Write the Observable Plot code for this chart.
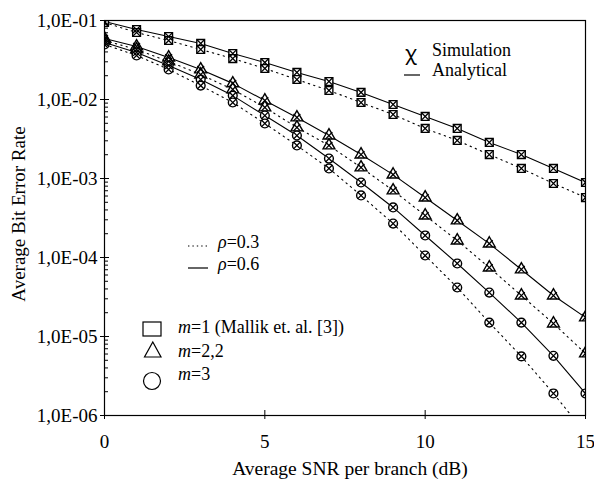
<!DOCTYPE html>
<html>
<head>
<meta charset="utf-8">
<script src="https://cdn.jsdelivr.net/npm/d3@7"></script>
<script src="https://cdn.jsdelivr.net/npm/@observablehq/plot@0.6"></script>
<style>
  html, body { margin: 0; padding: 0; background: white; }
  .serif { font-family: "Liberation Serif"; }
</style>
</head>
<body>
<script>
// ---- Data ----
const snr = [0, 1, 2, 3, 4, 5, 6, 7, 8, 9, 10, 11, 12, 13, 14, 15];

// m = 1 (squares)
const m1_rho06 = [0.0971, 0.0769, 0.0627, 0.0512, 0.0382, 0.0294, 0.0220, 0.0169, 0.0123, 0.00865, 0.00610, 0.00430, 0.00286, 0.00201, 0.00134, 0.00089];
const m1_rho03 = [0.0943, 0.0705, 0.0558, 0.0430, 0.0330, 0.0247, 0.0179, 0.0130, 0.00916, 0.00646, 0.00430, 0.00303, 0.00201, 0.00134, 0.000865, 0.000574];
// m = 2,2 (triangles)
const m22_rho06 = [0.0592, 0.0469, 0.0340, 0.0240, 0.0160, 0.0097, 0.00592, 0.00350, 0.00201, 0.00112, 0.000574, 0.000294, 0.000150, 7.05e-5, 3.30e-5, 1.74e-5];
const m22_rho03 = [0.0558, 0.0430, 0.0303, 0.0207, 0.0134, 0.00793, 0.00443, 0.00262, 0.00138, 0.000705, 0.000340, 0.000164, 7.46e-5, 3.30e-5, 1.46e-5, 6.1e-6];
// m = 3 (circles)
const m3_rho06 = [0.0527, 0.0394, 0.0269, 0.0179, 0.0112, 0.00627, 0.00350, 0.00179, 0.00089, 0.000430, 0.000190, 8.4e-5, 3.6e-5, 1.50e-5, 5.7e-6, 1.90e-6];
const m3_rho03 = [0.0497, 0.0361, 0.0240, 0.0150, 0.00916, 0.00497, 0.00262, 0.00134, 0.00061, 0.000269, 0.000106, 4.17e-5, 1.50e-5, 5.6e-6, 1.90e-6, 6.0e-7];

const yMajor = [1e-6, 1e-5, 1e-4, 1e-3, 1e-2, 1e-1];
const xMajor = [0, 5, 10, 15];

// ---- Table built from the arrays ----
const seriesDefs = [
  {m: "1", rho: 0.6, values: m1_rho06, symbol: "square"},
  {m: "1", rho: 0.3, values: m1_rho03, symbol: "square"},
  {m: "2,2", rho: 0.6, values: m22_rho06, symbol: "triangle"},
  {m: "2,2", rho: 0.3, values: m22_rho03, symbol: "triangle"},
  {m: "3", rho: 0.6, values: m3_rho06, symbol: "circle"},
  {m: "3", rho: 0.3, values: m3_rho03, symbol: "circle"}
];
const rows = seriesDefs.flatMap(s => s.values.map((v, i) => ({
  x: snr[i], y: v, m: s.m, rho: s.rho, symbol: s.symbol, key: s.m + "|" + s.rho
})));

const yMinor = [];
for (const d of yMajor.slice(0, -1)) for (let k = 2; k <= 9; k++) yMinor.push(d * k);

const fmtY = d => "1,0E-" + String(Math.round(-Math.log10(d))).padStart(2, "0");

const plot = Plot.plot({
  width: 594,
  height: 479,
  marginLeft: 104,
  marginRight: 9,
  marginTop: 20,
  marginBottom: 64,
  style: {fontSize: "19px", background: "white", color: "black"},
  x: {domain: [0, 15]},
  y: {type: "log", domain: [1e-6, 1e-1]},
  marks: [
    Plot.line(rows.filter(d => d.rho === 0.3), {x: "x", y: "y", z: "key", stroke: "black", strokeWidth: 1.1, strokeDasharray: "1.4,4.2", clip: true}),
    Plot.line(rows.filter(d => d.rho === 0.6), {x: "x", y: "y", z: "key", stroke: "black", strokeWidth: 1.1, clip: true}),
    Plot.dot(rows, {x: "x", y: "y", symbol: "symbol", r: 4.4, stroke: "black", fill: "white", strokeWidth: 1.4, clip: true}),
    Plot.dot(rows, {x: "x", y: "y", symbol: "times", r: 3.2, stroke: "black", strokeWidth: 1.3, clip: true}),
    Plot.frame({stroke: "black", strokeWidth: 1.2}),
    Plot.axisY({ticks: yMajor, tickSize: 4, tickPadding: 3, tickFormat: fmtY, label: null, fontSize: 19}),
    Plot.axisY({ticks: yMajor, tickSize: -5, tickFormat: () => "", label: null}),
    Plot.axisY({ticks: yMinor, tickSize: -4, tickFormat: () => "", label: null}),
    Plot.axisX({ticks: xMajor, tickSize: 4, tickPadding: 15, label: null, fontSize: 19}),
    Plot.axisX({ticks: xMajor, tickSize: -5, tickFormat: () => "", label: null})
  ]
});
document.body.appendChild(plot);

// ---- Axis titles and in-plot legends ----
const svg = d3.select(plot);
const g = svg.append("g").attr("fill", "black").attr("text-anchor", "start");

g.append("text").attr("x", 350).attr("y", 468).attr("dy", "0.35em")
  .attr("text-anchor", "middle").attr("font-size", 19.5).text("Average SNR per branch (dB)");
g.append("text").attr("transform", "translate(18,214) rotate(-90)").attr("dy", "0.35em")
  .attr("text-anchor", "middle").attr("font-size", 19).text("Average Bit Error Rate");

// Simulation / Analytical
g.append("text").attr("x", 432).attr("y", 50).attr("dy", "0.35em").attr("font-size", 18).text("Simulation");
g.append("line").attr("x1", 404).attr("x2", 420).attr("y1", 75).attr("y2", 75).attr("stroke", "black").attr("stroke-width", 1.2);
g.append("text").attr("x", 432).attr("y", 70).attr("dy", "0.35em").attr("font-size", 18).text("Analytical");

// rho legend
g.append("line").attr("x1", 188).attr("x2", 208).attr("y1", 246).attr("y2", 246)
  .attr("stroke", "black").attr("stroke-width", 1.1).attr("stroke-dasharray", "1.4,3");
const t1 = g.append("text").attr("x", 218).attr("y", 242).attr("dy", "0.35em").attr("font-size", 18);
t1.append("tspan").attr("font-style", "italic").text("ρ");
t1.append("tspan").text("=0.3");
g.append("line").attr("x1", 188).attr("x2", 208).attr("y1", 268).attr("y2", 268)
  .attr("stroke", "black").attr("stroke-width", 1.2);
const t2 = g.append("text").attr("x", 218).attr("y", 264).attr("dy", "0.35em").attr("font-size", 18);
t2.append("tspan").attr("font-style", "italic").text("ρ");
t2.append("tspan").text("=0.6");

// m legend
g.append("rect").attr("x", 143).attr("y", 322).attr("width", 18).attr("height", 14)
  .attr("fill", "none").attr("stroke", "black").attr("stroke-width", 1.2);
g.append("path").attr("d", "M152.8,342 L161,357 L144.5,357 Z")
  .attr("fill", "none").attr("stroke", "black").attr("stroke-width", 1.2);
g.append("ellipse").attr("cx", 152).attr("cy", 381).attr("rx", 8.5).attr("ry", 8.5)
  .attr("fill", "none").attr("stroke", "black").attr("stroke-width", 1.2);
const mLabels = [["=1 (Mallik et. al. [3])", 327], ["=2,2", 351], ["=3", 374]];
for (const [txt, yy] of mLabels) {
  const t = g.append("text").attr("x", 178).attr("y", yy).attr("dy", "0.35em").attr("font-size", 18);
  t.append("tspan").attr("font-style", "italic").text("m");
  t.append("tspan").text(txt);
}

// serif font for every text (the chi glyph below stays in the default face)
svg.selectAll("text").classed("serif", true);
g.append("text").attr("x", 411).attr("y", 53).attr("dy", "0.35em").attr("text-anchor", "middle")
  .attr("font-size", 20).text("χ");
</script>
</body>
</html>
